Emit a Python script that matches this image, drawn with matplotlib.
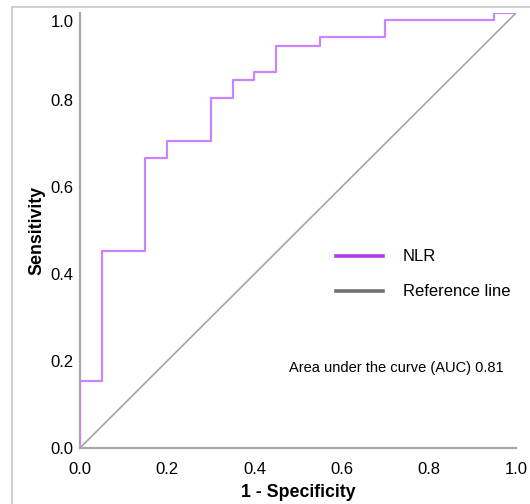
import matplotlib
matplotlib.use("Agg")
import matplotlib.pyplot as plt
from matplotlib.lines import Line2D
from matplotlib.patches import Rectangle
from matplotlib.transforms import ScaledTranslation

plt.rcParams['font.family'] = ['Liberation Sans', 'DejaVu Sans']

# ROC curve (1 - specificity, sensitivity), step points
fpr = [0.0, 0.0, 0.05, 0.15, 0.20, 0.30, 0.35, 0.40, 0.45, 0.55, 0.70, 0.95, 1.0]
tpr = [0.0, 0.155, 0.452, 0.667, 0.706, 0.805, 0.845, 0.865, 0.925, 0.945, 0.984, 1.0, 1.0]
ref_x = [0.0, 1.0]
ref_y = [0.0, 1.0]
ticks = [0.0, 0.2, 0.4, 0.6, 0.8, 1.0]
auc = 0.81

W, H = 530, 504
fig = plt.figure(figsize=(W / 100, H / 100), dpi=100)
ax = fig.add_axes([80 / W, (H - 448) / H, 436 / W, 435 / H])

ax.plot(fpr, tpr, drawstyle='steps-post', color='#c985fa', lw=1.6, zorder=3)
ax.plot(ref_x, ref_y, color='#a5a5a5', lw=1.2, zorder=2)

ax.set_xlim(0, 1)
ax.set_ylim(0, 1)
ax.set_xticks(ticks)
ax.set_yticks(ticks)
ax.set_xticklabels(['%.1f' % t for t in ticks])
ax.set_yticklabels(['%.1f' % t for t in ticks])
ax.tick_params(length=0, labelsize=12, colors='black')
ax.tick_params(axis='y', pad=4.5)
ax.tick_params(axis='x', pad=10)

for s in ['top', 'right']:
    ax.spines[s].set_visible(False)
for s in ['left', 'bottom']:
    ax.spines[s].set_color('#a8a8a8')
    ax.spines[s].set_linewidth(1.6)

ax.set_xlabel('1 - Specificity', fontsize=12.8, fontweight='bold', labelpad=5)
ax.set_ylabel('Sensitivity', fontsize=12.8, fontweight='bold', labelpad=4)

# top y label sits a bit lower in the original
lab = ax.get_yticklabels()[-1]
lab.set_transform(lab.get_transform() + ScaledTranslation(0, -8 / 100, fig.dpi_scale_trans))

handles = [Line2D([], [], color='#b83ae6', lw=2.6),
           Line2D([], [], color='#727272', lw=2.6)]
ax.legend(handles, ['NLR', 'Reference line'], loc='center left',
          bbox_to_anchor=(0.587, 0.399), frameon=False, fontsize=12,
          handlelength=2.85, handletextpad=1.15, labelspacing=1.2,
          borderpad=0, borderaxespad=0)

ax.text(0.479, 0.184, 'Area under the curve (AUC) %.2f' % auc, transform=ax.transAxes,
        fontsize=10.5, va='center', ha='left')

fig.patches.append(Rectangle((12 / W, -0.1), 1.2, (H - 7) / H + 0.1, transform=fig.transFigure,
                             fill=False, edgecolor='#c8c8c8', lw=1.2))

fig.savefig('out.png', dpi=100)
